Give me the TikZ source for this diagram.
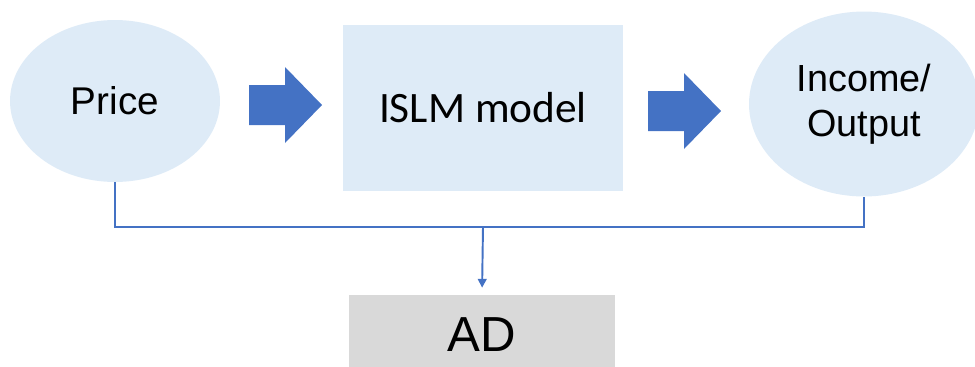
\documentclass[tikz,border=0pt]{standalone}
\usepackage{fontspec}
\setmainfont{Liberation Sans}
\newfontfamily\calibrifont{Carlito}
\usetikzlibrary{shapes.geometric,arrows.meta}

\definecolor{paleblue}{HTML}{DEEBF7}
\definecolor{accentblue}{HTML}{4472C4}
\definecolor{palegray}{HTML}{D9D9D9}

\tikzset{
  bubble/.style={ellipse, fill=paleblue, inner sep=0pt, align=center},
  modelbox/.style={rectangle, fill=paleblue, inner sep=0pt},
  resultbox/.style={rectangle, fill=palegray, inner sep=0pt},
  link/.style={draw=accentblue, line width=1.1pt}
}

\begin{document}
\begin{tikzpicture}[x=0.02cm,y=-0.02cm]
    \useasboundingbox (0,0) rectangle (975,366);
    % blocks
    \node[bubble, minimum width=4.2cm, minimum height=3.24cm,
        font=\fontsize{22}{26}\selectfont] (price) at (115,101) {Price};
    \node[modelbox, minimum width=5.6cm, minimum height=3.32cm,
        font=\calibrifont\fontsize{24.7}{28}\selectfont] (islm) at (483,108) {ISLM model};
    \node[bubble, minimum width=4.6cm, minimum height=3.7cm,
        font=\fontsize{21.5}{25.6}\selectfont] (income) at (864,104) {Income/\\Output};
    \node[resultbox, minimum width=5.32cm, minimum height=1.6cm,
        font=\fontsize{28}{32}\selectfont] (ad) at (482,335) {AD};
    % block arrows
    \foreach \x/\y in {249/105,648/111}
        \fill[accentblue] (\x,\y-20) -- ++(36,0) -- ++(0,-18) -- ++(37,38)
            -- ++(-37,38) -- ++(0,-18) -- ++(-36,0) -- cycle;
    % feedback lines
    \coordinate (join) at (483,227);
    \draw[link] (price.south) |- (join) -| (income.south);
    \draw[link, -{Triangle[width=5pt,length=5pt]}, shorten >=4pt] (join) -- (ad.north);
\end{tikzpicture}
\end{document}
